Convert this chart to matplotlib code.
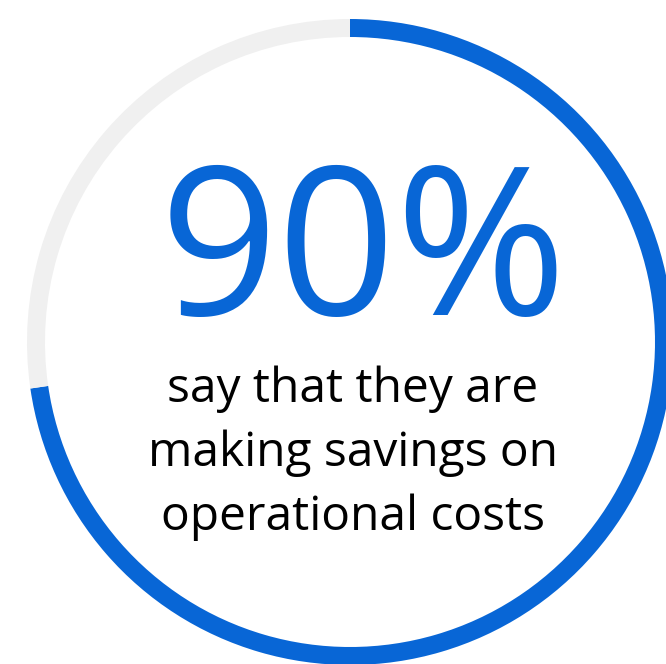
import matplotlib
matplotlib.use("Agg")
import matplotlib.pyplot as plt

# Data
labels = ["Making savings", "Other"]
values = [72.7, 27.3]
colors = ["#0866d6", "#f0f0f0"]
headline = "90%"
caption_lines = ["say that they are", "making savings on", "operational costs"]

W, H = 666, 664
fig = plt.figure(figsize=(W / 100, H / 100), dpi=100)
ax = fig.add_axes([0, 0, 1, 1])

cx, cy, R = 350, H - 342, 323
ax.pie(values, colors=colors, startangle=90, counterclock=False,
       center=(cx, cy), radius=R, frame=True,
       wedgeprops=dict(width=18, linewidth=0))
ax.set_xlim(0, W)
ax.set_ylim(0, H)
ax.set_aspect("equal")
ax.axis("off")

ax.text(363, H - 315, headline, color="#0866d6", fontsize=149,
        family="Open Sans", ha="center", va="baseline")

baselines = [402, 466, 530]
for line, b in zip(caption_lines, baselines):
    ax.text(353, H - b, line, color="black", fontsize=34.5,
            family="Open Sans", ha="center", va="baseline")

fig.savefig("out.png", dpi=100)
